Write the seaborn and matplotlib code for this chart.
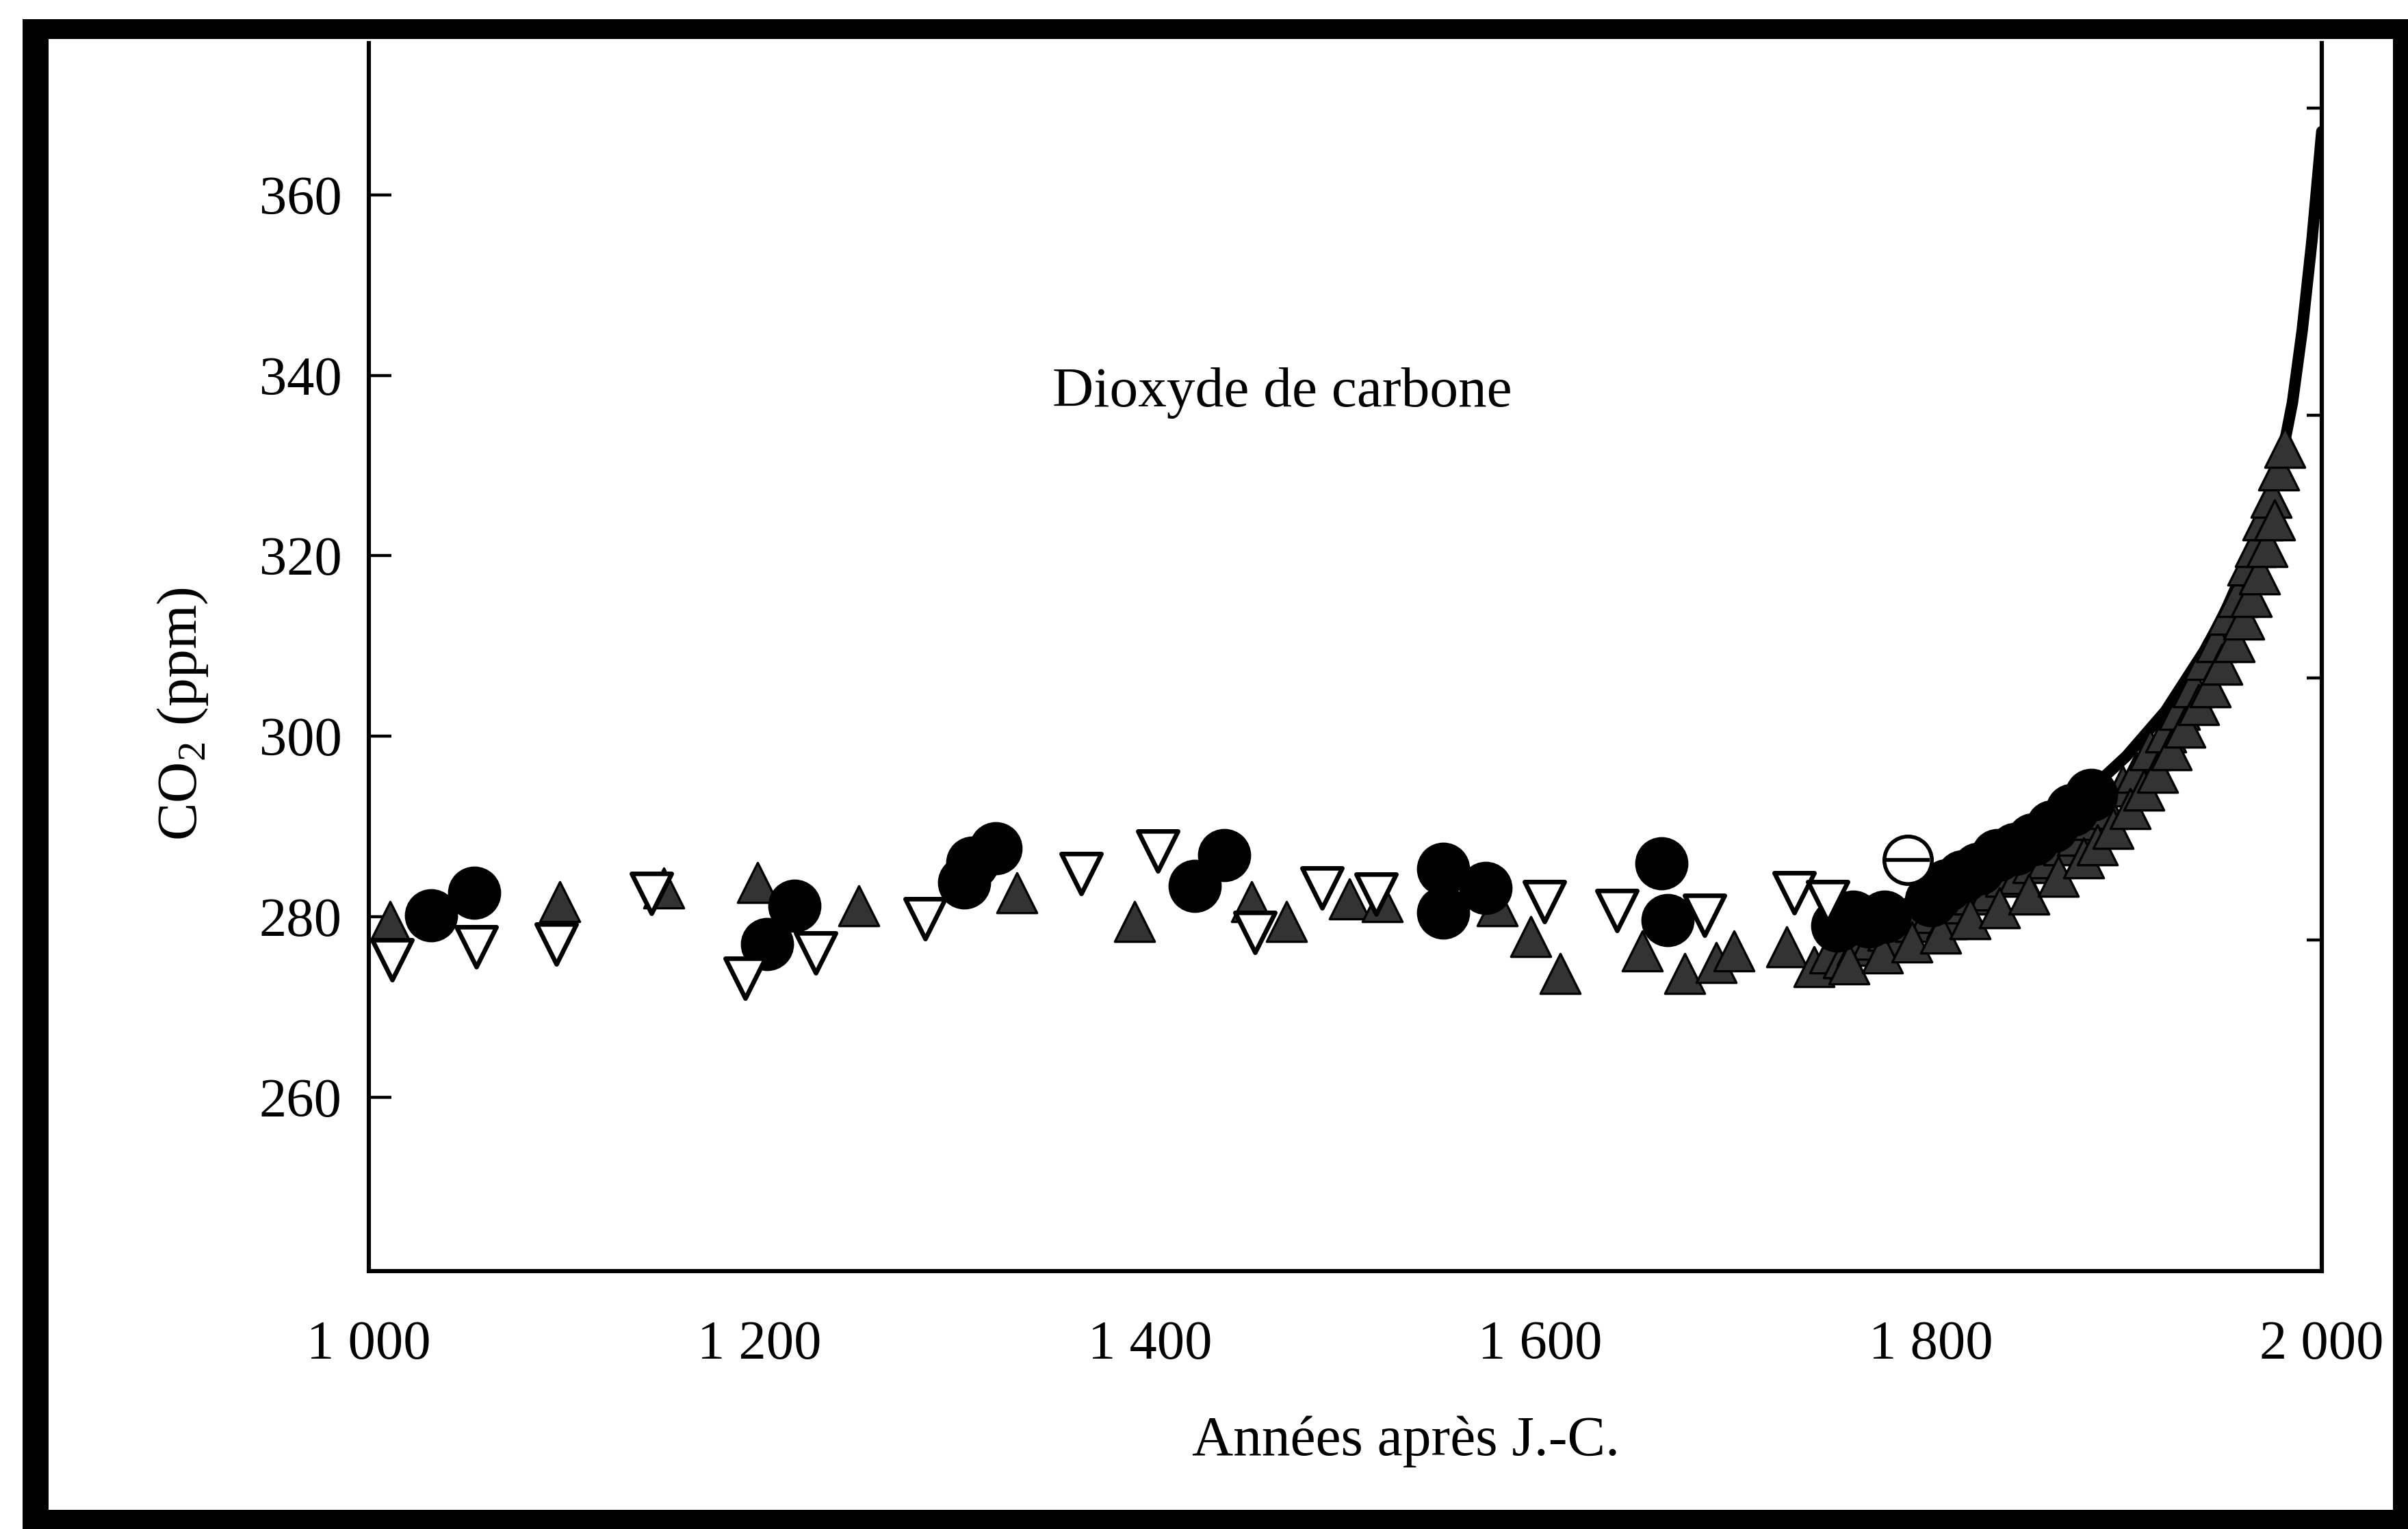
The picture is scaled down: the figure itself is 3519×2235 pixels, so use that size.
import matplotlib
matplotlib.use("Agg")
import matplotlib.pyplot as plt
from matplotlib.patches import Rectangle
from matplotlib.ticker import FuncFormatter
import seaborn as sns
import pandas as pd

# Data
# open downward triangles
v_years = [1012, 1055, 1096, 1145, 1193, 1229, 1285, 1365, 1404, 1454, 1488,
           1516, 1602, 1639, 1684, 1730, 1747]
v_ppm = [275.2, 276.7, 277.0, 282.6, 273.2, 276.0, 279.8, 284.8, 287.3, 278.3,
         283.2, 282.5, 281.7, 280.7, 280.2, 282.7, 281.7]

# filled circles
c_years = [1032, 1054, 1204, 1218, 1305, 1309, 1321, 1423, 1438, 1550, 1550,
           1572, 1662, 1665,
           1752, 1760, 1768, 1776, 1800, 1808, 1816, 1824, 1834, 1843, 1852,
           1862, 1872, 1882]
c_ppm = [280.2, 282.7, 277.0, 281.2, 283.8, 286.0, 287.6, 283.4, 286.8, 280.5,
         285.3, 283.2, 285.9, 279.6,
         279.0, 280.0, 279.5, 280.0, 281.8, 283.5, 284.5, 285.3, 286.8, 287.5,
         288.6, 290.0, 291.8, 293.5]

# filled upward triangles (stippled in the print)
t_years = [1011, 1098, 1151, 1199, 1251, 1332, 1392, 1452, 1470, 1502, 1519,
           1578, 1595, 1610, 1652, 1674, 1690, 1699, 1726,
           1740, 1748, 1755, 1762, 1770, 1778, 1785, 1792, 1800, 1808, 1815,
           1822, 1830, 1838, 1845, 1852, 1860, 1868, 1875, 1882, 1890, 1898,
           1905, 1912, 1920, 1927, 1934, 1940, 1946, 1952, 1957, 1962, 1966,
           1970, 1974, 1978, 1981,
           1758, 1775, 1790, 1805, 1820, 1835, 1850, 1865, 1878, 1885, 1893,
           1902, 1909, 1916, 1923, 1930, 1937, 1943, 1949, 1955, 1960, 1964,
           1968, 1972, 1976]
t_ppm = [279.5, 281.7, 283.2, 283.8, 281.2, 282.7, 279.5, 281.7, 279.5, 282.0,
         281.7, 281.2, 277.8, 273.7, 276.2, 273.7, 274.9, 276.2, 276.7,
         274.5, 276.0, 275.5, 276.8, 277.5, 278.5, 278.0, 279.5, 280.5, 279.8,
         281.5, 282.5, 283.0, 284.5, 284.8, 286.0, 286.5, 288.0, 289.0, 290.8,
         292.0, 294.5, 296.0, 298.5, 300.5, 303.0, 305.5, 308.5, 310.5, 313.5,
         315.5, 319.0, 321.0, 324.0, 326.5, 329.5, 332.0,
         274.8, 276.0, 277.2, 278.2, 279.8, 281.0, 282.5, 284.5, 286.5, 288.0,
         289.8, 292.0, 294.0, 296.0, 298.5, 301.0, 303.5, 305.5, 308.0, 310.5,
         313.0, 315.5, 318.0, 321.0, 324.0]

# open circle with bar
oc_years = [1788]
oc_ppm = [286.3]

# solid curve
l_years = [1745, 1760, 1780, 1800, 1820, 1840, 1860, 1880, 1900, 1920, 1940,
           1950, 1960, 1970, 1980, 1985, 1990, 1995, 2000]
l_ppm = [278.0, 279.8, 281.0, 282.3, 284.8, 287.5, 290.5, 293.8, 297.8, 302.8,
         309.5, 313.5, 318.5, 324.5, 331.5, 337.0, 345.0, 355.0, 367.0]

x_ticks = [1000, 1200, 1400, 1600, 1800, 2000]
y_ticks = [260, 280, 300, 320, 340, 360]
right_ticks = [277.4, 306.5, 335.6, 369.6]

sns.set_theme(style="white")
plt.rcParams['font.family'] = ['Liberation Serif', 'DejaVu Serif']
plt.rcParams['mathtext.fontset'] = 'custom'
plt.rcParams['mathtext.rm'] = 'Liberation Serif'

W, H = 3519, 2235
fig = plt.figure(figsize=(W / 200, H / 200), dpi=200)
fig.patch.set_facecolor('white')
ax = fig.add_axes([538.6 / W, 1 - 1858 / H, (3393 - 538.6) / W, (1858 - 63) / H])
ax.set_facecolor('white')

v_df = pd.DataFrame({'year': v_years, 'ppm': v_ppm})
c_df = pd.DataFrame({'year': c_years, 'ppm': c_ppm})
t_df = pd.DataFrame({'year': t_years, 'ppm': t_ppm})
oc_df = pd.DataFrame({'year': oc_years, 'ppm': oc_ppm})
l_df = pd.DataFrame({'year': l_years, 'ppm': l_ppm})

sns.lineplot(data=l_df, x='year', y='ppm', ax=ax, color='black', lw=6,
             zorder=3)
sns.scatterplot(data=t_df, x='year', y='ppm', ax=ax, marker='^', s=21 ** 2,
                color='#333333', edgecolor='black', linewidth=1.2, zorder=4)
sns.scatterplot(data=c_df, x='year', y='ppm', ax=ax, marker='o', s=27 ** 2,
                color='black', edgecolor='black', linewidth=1, zorder=5)
sns.scatterplot(data=v_df, x='year', y='ppm', ax=ax, marker='v', s=21 ** 2,
                color='white', edgecolor='black', linewidth=2.4, zorder=6)
sns.scatterplot(data=oc_df, x='year', y='ppm', ax=ax, marker='o', s=25 ** 2,
                color='white', edgecolor='black', linewidth=2, zorder=6)
sns.scatterplot(data=oc_df, x='year', y='ppm', ax=ax, marker='_', s=23 ** 2,
                color='black', linewidth=2, zorder=7)

ax.set_xlim(1000, 2000)
ax.set_ylim(240.75, 376.8)
ax.set_xticks(x_ticks)
ax.set_yticks(y_ticks)
ax.xaxis.set_major_formatter(FuncFormatter(lambda v, p: f"{int(v):,}".replace(',', ' ')))
ax.tick_params(axis='both', direction='in', colors='black', labelsize=29,
               length=12, width=1.6)
ax.tick_params(axis='x', pad=26)
ax.tick_params(axis='y', pad=14)
for side in ['left', 'bottom', 'right']:
    ax.spines[side].set_visible(True)
    ax.spines[side].set_color('black')
    ax.spines[side].set_linewidth(2.2)
ax.spines['top'].set_visible(False)

ax2 = ax.twinx()
ax2.set_ylim(ax.get_ylim())
ax2.set_yticks(right_ticks)
ax2.set_yticklabels([])
ax2.tick_params(axis='y', direction='in', length=8, width=1.6, colors='black')
ax2.grid(False)
for side in ['top', 'left', 'bottom']:
    ax2.spines[side].set_visible(False)
ax2.spines['right'].set_linewidth(2.2)
ax2.spines['right'].set_color('black')

ax.set_xlabel('Années après J.-C.', fontsize=30, color='black')
ax.xaxis.set_label_coords(0.531, -0.118)
ax.set_ylabel(r'CO$_\mathrm{2}$ (ppm)', fontsize=30, color='black')
ax.yaxis.set_label_coords(-0.081, 0.454)

ax.text(0.4677, 0.7153, 'Dioxyde de carbone', transform=ax.transAxes,
        ha='center', va='center', fontsize=30, color='black')

# thick black frame of the scanned page
def px_rect(x0, y0, x1, y1):
    return Rectangle((x0 / W, 1 - y1 / H), (x1 - x0) / W, (y1 - y0) / H,
                     transform=fig.transFigure, facecolor='black',
                     edgecolor='none', zorder=10)

for r in [px_rect(33, 28, 71, H), px_rect(33, 28, W, 57),
          px_rect(33, 2207, W, H), px_rect(3497, 28, W, H)]:
    fig.patches.append(r)

fig.savefig('out.png', dpi=200, facecolor='white')
